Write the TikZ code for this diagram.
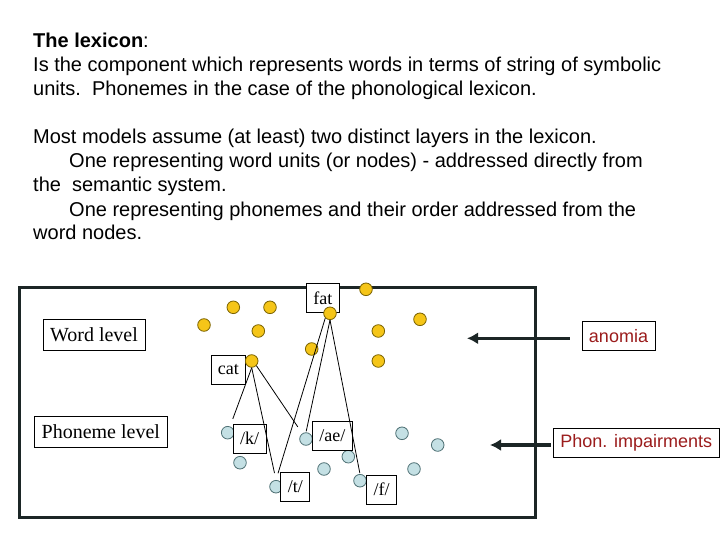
\documentclass[tikz,border=0pt]{standalone}
\usepackage{fontspec}
\setmainfont{Liberation Serif}
\newfontfamily\slidefont{Liberation Sans}
\usepackage{xcolor}
\definecolor{WordDot}{HTML}{F5C518}
\definecolor{WordEdge}{HTML}{7A6200}
\definecolor{PhonDot}{HTML}{C4E0E4}
\definecolor{PhonEdge}{HTML}{4E7074}
\definecolor{FrameInk}{HTML}{1C2626}
\definecolor{ImpRed}{HTML}{9B1C1C}
\usepackage{tikz}
\usetikzlibrary{arrows.meta, positioning, calc}

\tikzset{
  wdot/.style={circle, draw=WordEdge, fill=WordDot, line width=0.8pt, minimum size=12.6pt, inner sep=0pt},
  pdot/.style={circle, draw=PhonEdge, fill=PhonDot, line width=0.8pt, minimum size=12.6pt, inner sep=0pt},
  unitbox/.style={draw=black, fill=white, line width=0.8pt, inner xsep=7pt, inner ysep=0pt,
                  minimum height=29pt, font=\fontsize{18}{20}\selectfont},
  levelbox/.style={draw=black, fill=white, line width=0.8pt, inner xsep=7pt, inner ysep=0pt,
                   minimum height=31pt, font=\fontsize{20}{24}\selectfont},
  impbox/.style={draw=black, fill=white, line width=0.8pt, inner xsep=7pt, inner ysep=0pt,
                 minimum height=29pt, text=ImpRed, font=\slidefont\fontsize{18}{22}\selectfont},
  link/.style={draw=black, line width=0.8pt},
  bigarrow/.style={draw=FrameInk, line width=3.3pt, -{Latex[length=11pt,width=12pt]}}
}

\begin{document}
\begin{tikzpicture}[x=1pt, y=-1pt]
  \useasboundingbox[fill=white] (0,0) rectangle (720,540);
  % Intro text, one node per line
  \foreach \n/\yy/\xx/\txt in {
      1/48/33/{\textbf{The lexicon}:},
      2/72/33/{Is the component which represents words in terms of string of symbolic},
      3/96/33/{units.~~Phonemes in the case of the phonological lexicon.},
      4/144/33/{Most models assume (at least) two distinct layers in the lexicon.},
      5/168/69/{One representing word units (or nodes) - addressed directly from},
      6/192/33/{the~~semantic system.},
      7/216/69/{One representing phonemes and their order addressed from the},
      8/240/33/{word nodes.}} {
    \node[anchor=base west, inner sep=0pt, font=\slidefont\fontsize{20}{24}\selectfont] (intro\n) at (\xx,\yy) {\txt};
  }
  % Lexicon frame
  \draw[FrameInk, line width=3pt] (19,287) rectangle (535,517);
  % Phoneme units
  \foreach \n/\xx/\yy in {1/240/462.7, 2/324/469, 3/348.3/456.7, 4/402/433.3, 5/414/469, 6/437.7/445} {
    \node[pdot] (p\n) at (\xx,\yy) {};
  }
  \node[pdot] (pk) at (227.7,432.7) {};
  \node[pdot] (pt) at (276,486.7) {};
  \node[pdot] (pae) at (306,439) {};
  \node[pdot] (pf) at (360,480.7) {};
  \node[unitbox] (lk) at (249.5,438.8) {/k/};
  \node[unitbox] (lae) at (332.3,435.8) {/ae/};
  \node[unitbox] (lt) at (295.3,486.7) {/t/};
  \node[unitbox] (lf) at (381.7,489.5) {/f/};
  % Word units
  \node[unitbox] (lcat) at (228.4,369.7) {cat};
  \node[unitbox] (lfat) at (322.8,297.8) {fat};
  \foreach \n/\xx/\yy in {1/233.3/307.3, 2/270/307.3, 3/204/325, 4/258.3/331, 5/366/289.3,
                          6/420/319.3, 7/378.3/331, 8/311.7/349, 9/378.3/361} {
    \node[wdot] (w\n) at (\xx,\yy) {};
  }
  \node[wdot] (wcat) at (251.7,361) {};
  \node[wdot] (wfat) at (330,313.3) {};
  % Links from words to their phonemes
  \draw[link, shorten >=8pt] (wcat.south) -- (pk);
  \draw[link, shorten >=7pt] (wcat.south) -- (pt.north);
  \draw[link, shorten >=8pt] (wcat.south east) -- (pae);
  \draw[link, shorten >=7pt] (wfat.south west) -- (pt.north);
  \draw[link, shorten >=1pt] (wfat.south) -- (pae.north);
  \draw[link, shorten >=1pt] (wfat.south) -- (pf.north);
  % Level labels
  \node[levelbox] (wordlevel) at (94,334.7) {Word level};
  \node[levelbox] (phonlevel) at (100.8,431.7) {Phoneme level};
  % Impairments
  \node[impbox] (anomia) at (618.5,335.8) {anomia};
  \node[impbox] (phonimp) at (636.2,442.8) {Phon. impairments};
  \coordinate (anomiatip) at (467,338.3);
  \coordinate (phontip) at (490,445);
  \draw[bigarrow, shorten <=12pt] (anomia.west |- anomiatip) -- (anomiatip);
  \draw[bigarrow, shorten <=2pt] (phonimp.west |- phontip) -- (phontip);
\end{tikzpicture}
\end{document}
